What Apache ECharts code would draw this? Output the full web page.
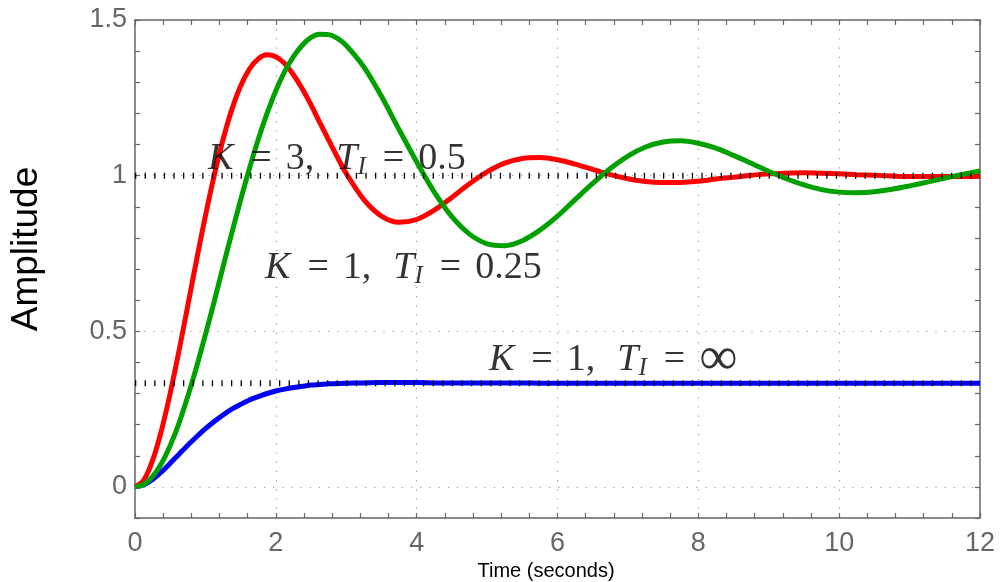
<!DOCTYPE html>
<html>
<head>
    <meta charset="utf-8">
    <title>Step response, PI control</title>
    <script src="https://cdn.jsdelivr.net/npm/echarts@6/dist/echarts.min.js"></script>
    <style>
        html, body { margin: 0; padding: 0; background: #fff; }
    </style>
</head>
<body>
    <div id="main" style="width: 1000px; height: 582px;"></div>

    <script>
        // time samples (s), finer over the rise and first peaks
        const time = [0, 0.125, 0.25, 0.375, 0.5, 0.625, 0.75, 0.875, 1, 1.125, 1.25, 1.375, 1.5,
                      1.625, 1.75, 1.875, 2, 2.125, 2.25, 2.375, 2.5, 2.625, 2.75, 2.875, 3,
                      3.25, 3.5, 3.75, 4, 4.25, 4.5, 4.75, 5, 5.25, 5.5, 5.75, 6,
                      6.25, 6.5, 6.75, 7, 7.25, 7.5, 7.75, 8, 8.25, 8.5, 8.75, 9,
                      9.25, 9.5, 9.75, 10, 10.25, 10.5, 10.75, 11, 11.25, 11.5, 11.75, 12];

        // K = 3, TI = 0.5
        const redK3 = [0, 0.022, 0.085, 0.181, 0.301, 0.437, 0.583, 0.730, 0.871, 1.001, 1.116, 1.212, 1.288,
                       1.342, 1.375, 1.388, 1.382, 1.360, 1.324, 1.279, 1.227, 1.170, 1.114, 1.059, 1.007,
                       0.923, 0.870, 0.850, 0.859, 0.889, 0.930, 0.974, 1.012, 1.040, 1.055, 1.058, 1.051,
                       1.037, 1.020, 1.003, 0.990, 0.981, 0.978, 0.978, 0.982, 0.989, 0.995, 1.001, 1.006,
                       1.008, 1.009, 1.008, 1.006, 1.003, 1.001, 0.999, 0.997, 0.997, 0.997, 0.997, 0.998];

        // K = 1, TI = 0.25
        const greenK1 = [0, 0.008, 0.033, 0.075, 0.133, 0.205, 0.291, 0.386, 0.489, 0.596, 0.707, 0.816, 0.922,
                         1.023, 1.116, 1.200, 1.273, 1.334, 1.382, 1.419, 1.444, 1.454, 1.453, 1.441, 1.418,
                         1.349, 1.255, 1.148, 1.044, 0.947, 0.868, 0.812, 0.781, 0.775, 0.791, 0.825, 0.870,
                         0.923, 0.975, 1.023, 1.063, 1.092, 1.108, 1.112, 1.104, 1.088, 1.065, 1.040, 1.014,
                         0.990, 0.970, 0.955, 0.947, 0.945, 0.948, 0.956, 0.967, 0.979, 0.992, 1.004, 1.015];

        // K = 1, TI = inf
        const blueK1 = [0, 0.007, 0.024, 0.048, 0.076, 0.105, 0.134, 0.161, 0.187, 0.210, 0.231, 0.250, 0.265,
                        0.279, 0.290, 0.300, 0.308, 0.314, 0.319, 0.323, 0.327, 0.329, 0.331, 0.332, 0.333,
                        0.334, 0.335, 0.335, 0.335, 0.334, 0.334, 0.334, 0.334, 0.334, 0.334, 0.333, 0.333,
                        0.333, 0.333, 0.333, 0.333, 0.333, 0.333, 0.333, 0.333, 0.333, 0.333, 0.333, 0.333,
                        0.333, 0.333, 0.333, 0.333, 0.333, 0.333, 0.333, 0.333, 0.333, 0.333, 0.333, 0.333];

        // dotted reference levels
        const refLevels = [1, 0.3333];

        // curve annotations: text and anchor (t, amplitude) of the label's left edge
        const labelTexts = [
            '{i|K}{e|=}3,{g| }{i|T}{s|I}{e|=}0.5',
            '{i|K}{e|=}1,{g| }{i|T}{s|I}{e|=}0.25',
            '{i|K}{e|=}1,{g| }{i|T}{s|I}{e|=}{inf|∞}'
        ];
        const labelAnchors = [[1.03, 1.054], [1.84, 0.703], [5.02, 0.407]];

        const xTicks = { min: 0, max: 12, interval: 2 };
        const yTicks = { min: -0.1, max: 1.5, interval: 0.1 };

        const axisGrey = '#666';
        const curveColors = ['#ff0000', '#00a000', '#0000ff'];

        const pairs = arr => time.map((t, i) => [t, arr[i]]);

        function curve(name, arr, color) {
            return {
                name: name,
                type: 'line',
                data: pairs(arr),
                smooth: 0.3,
                showSymbol: false,
                symbol: 'none',
                lineStyle: { color: color, width: 5 },
                itemStyle: { color: color },
                z: 3
            };
        }

        const serif = 'Liberation Serif, Times New Roman, serif';
        const rich = {
            i: { fontFamily: serif, fontStyle: 'italic', fontSize: 38, lineHeight: 42, color: '#000' },
            e: { fontFamily: serif, fontSize: 38, lineHeight: 42, color: '#000', padding: [0, 14, 0, 17] },
            g: { fontFamily: serif, fontSize: 38, lineHeight: 42, width: 22 },
            s: { fontFamily: serif, fontStyle: 'italic', fontSize: 25, lineHeight: 20, color: '#000', verticalAlign: 'bottom' },
            inf: { fontFamily: serif, fontSize: 54, lineHeight: 42, color: '#000' }
        };

        const baseAxis = {
            axisLine: { show: true, onZero: false, lineStyle: { color: axisGrey, width: 1.5 } },
            axisTick: { show: true, inside: true, length: 5, lineStyle: { color: axisGrey, width: 1.2 } }
        };

        const option = {
            backgroundColor: '#fff',
            animation: false,
            grid: { left: 135, right: 20, top: 20, bottom: 64, outerBoundsMode: 'none' },
            xAxis: [
                Object.assign({}, baseAxis, {
                    type: 'value',
                    min: xTicks.min, max: xTicks.max, interval: xTicks.interval,
                    position: 'bottom',
                    minorTick: { show: true, splitNumber: 5, length: 5, lineStyle: { color: axisGrey, width: 1.2 } },
                    axisLabel: {
                        color: axisGrey, fontSize: 27, margin: 12,
                        fontFamily: 'Liberation Sans, Arial, Helvetica, sans-serif'
                    },
                    splitLine: {
                        show: true, showMinLine: false, showMaxLine: false,
                        lineStyle: { color: '#9a9a9a', width: 1.2, type: [1.2, 8] }
                    }
                }),
                Object.assign({}, baseAxis, {
                    type: 'value',
                    min: xTicks.min, max: xTicks.max, interval: xTicks.interval,
                    position: 'top',
                    minorTick: { show: true, splitNumber: 5, length: 5, lineStyle: { color: axisGrey, width: 1.2 } },
                    axisLabel: { show: false },
                    splitLine: { show: false }
                })
            ],
            yAxis: [
                Object.assign({}, baseAxis, {
                    type: 'value',
                    min: yTicks.min, max: yTicks.max, interval: yTicks.interval,
                    position: 'left',
                    axisLabel: {
                        color: axisGrey, fontSize: 27, margin: 8, padding: [6, 0, 0, 0],
                        fontFamily: 'Liberation Sans, Arial, Helvetica, sans-serif',
                        formatter: v => (v >= -1e-9 && Math.abs(v * 2 - Math.round(v * 2)) < 1e-6)
                            ? String(+v.toFixed(1)) : ''
                    },
                    splitLine: {
                        show: true, showMinLine: false, showMaxLine: false,
                        // grid only every 0.5
                        lineStyle: {
                            color: ['#9a9a9a', 'rgba(0,0,0,0)', 'rgba(0,0,0,0)', 'rgba(0,0,0,0)', 'rgba(0,0,0,0)'],
                            width: 1.2, type: [1.2, 8]
                        }
                    }
                }),
                Object.assign({}, baseAxis, {
                    type: 'value',
                    min: yTicks.min, max: yTicks.max, interval: yTicks.interval,
                    position: 'right',
                    axisLabel: { show: false },
                    splitLine: { show: false }
                })
            ],
            graphic: [
                {
                    type: 'text', x: 27, y: 249, rotation: Math.PI / 2,
                    style: {
                        text: 'Amplitude', fill: '#000', fontSize: 37,
                        fontFamily: 'Liberation Sans, Arial, Helvetica, sans-serif',
                        align: 'center', verticalAlign: 'middle'
                    }
                },
                {
                    type: 'text', x: 546, y: 571,
                    style: {
                        text: 'Time (seconds)', fill: '#000', fontSize: 20,
                        fontFamily: 'Liberation Sans, Arial, Helvetica, sans-serif',
                        align: 'center', verticalAlign: 'middle'
                    }
                }
            ],
            series: [
                curve('K=1, TI=inf', blueK1, curveColors[2]),
                curve('K=3, TI=0.5', redK3, curveColors[0]),
                curve('K=1, TI=0.25', greenK1, curveColors[1])
            ].concat(refLevels.map(level => ({
                type: 'line',
                data: [[xTicks.min, level], [xTicks.max, level]],
                showSymbol: false,
                symbol: 'none',
                lineStyle: { color: '#000', width: 6, type: [1.3, 8.3], cap: 'butt' },
                z: 4
            }))).concat([{
                type: 'scatter',
                data: labelAnchors.map((p, i) => ({ value: p, text: labelTexts[i] })),
                symbolSize: 1,
                itemStyle: { color: 'rgba(0,0,0,0)' },
                z: 5,
                label: {
                    show: true,
                    position: 'right',
                    distance: 0,
                    fontFamily: serif,
                    fontSize: 38,
                    lineHeight: 42,
                    color: '#000',
                    formatter: p => p.data.text,
                    rich: rich
                }
            }])
        };

        const chart = echarts.init(document.getElementById('main'));
        chart.setOption(option);
    </script>
</body>
</html>
